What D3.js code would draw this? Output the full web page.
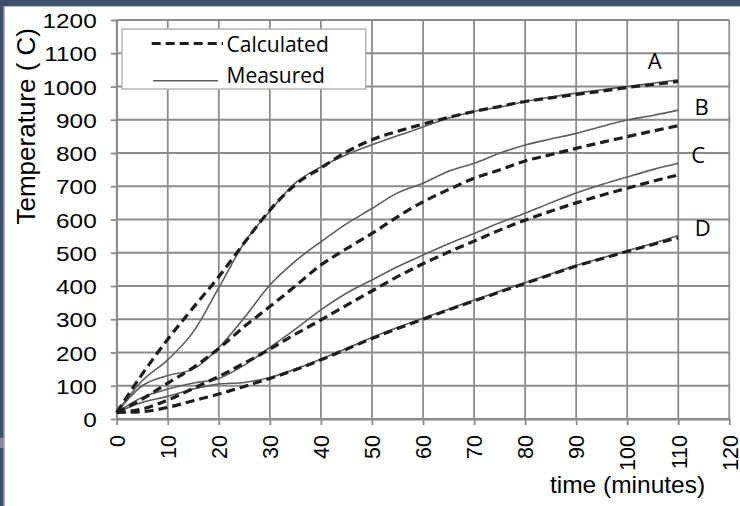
<!DOCTYPE html>
<html>
<head>
<meta charset="utf-8">
<script src="https://cdn.jsdelivr.net/npm/d3@7"></script>
<style>
  html, body { margin: 0; padding: 0; background: #ffffff; }
  svg { display: block; }
</style>
</head>
<body>
<svg id="chart" width="740" height="506"></svg>
<script>
// ---------------- data ----------------
const times = [0,5,10,15,20,25,30,35,40,45,50,55,60,65,70,75,80,85,90,95,100,105,110];

const calcA = [20,135,240,335,428,530,628,705,755,803,840,865,887,907,925,940,955,966,976,986,997,1006,1015];
const measA = [20,115,178,262,395,530,625,710,758,795,825,852,878,905,925,938,955,968,980,990,1000,1010,1020];

const calcB = [20,60,108,155,212,278,338,400,463,512,558,608,653,690,724,749,776,795,814,832,849,866,882];
const measB = [20,100,131,150,215,305,403,475,533,587,633,680,709,745,769,799,824,842,859,880,899,913,929];

const calcC = [20,30,57,92,128,168,210,255,298,342,385,428,467,502,535,568,598,625,650,673,694,715,734];
const measC = [20,65,90,108,122,162,215,270,328,378,418,458,493,527,558,590,619,650,680,705,728,750,769];

const calcD = [20,22,35,55,75,98,122,148,178,210,242,272,300,328,355,382,408,434,460,482,504,525,545];
const measD = [20,50,68,90,105,110,125,150,180,212,245,275,303,330,358,384,410,436,462,484,506,528,552];

const calculatedSeries = [calcA, calcB, calcC, calcD];
const measuredSeries = [measA, measB, measC, measD];

const xTicks = [0,10,20,30,40,50,60,70,80,90,100,110,120];
const yTicks = [0,100,200,300,400,500,600,700,800,900,1000,1100,1200];

const curveLabels = ["A","B","C","D"];
const labelT = [105.4,114.6,113.9,114.8];
const labelV = [1053,913,769,550];

const legendNames = ["Calculated","Measured"];
const xTitle = "time (minutes)";
const yTitle = "Temperature ( C)";

// ---------------- drawing ----------------
const svg = d3.select("#chart");

// slide background frame
svg.append("rect").attr("x",0).attr("y",0).attr("width",740).attr("height",506).attr("fill","#3c5169");
svg.append("rect").attr("x",0).attr("y",438).attr("width",4).attr("height",10).attr("fill","#86839a");
svg.append("rect").attr("x",3.5).attr("y",6).attr("width",740).attr("height",506).attr("fill","#b8b8b8");
svg.append("rect").attr("x",5).attr("y",7).attr("width",740).attr("height",506).attr("fill","#ffffff");

const x = d3.scaleLinear().domain([0,120]).range([116.7,729.3]);
const y = d3.scaleLinear().domain([0,1200]).range([419,20]);

const gridColor = "#8c8c8c";
const fmt = d3.format("d");

// grid
const grid = svg.append("g");
grid.selectAll("line.v").data(xTicks).join("line")
  .attr("x1", d => x(d)).attr("x2", d => x(d))
  .attr("y1", y(0)).attr("y2", y(1200))
  .attr("stroke", gridColor).attr("stroke-width", 1.8);
grid.selectAll("line.h").data(yTicks).join("line")
  .attr("x1", x(0)).attr("x2", x(120))
  .attr("y1", d => y(d)).attr("y2", d => y(d))
  .attr("stroke", gridColor).attr("stroke-width", 1.8);

// axes
const yAxis = svg.append("g").attr("transform", `translate(${x(0)},0)`)
  .call(d3.axisLeft(y).tickValues(yTicks).tickFormat(fmt).tickSize(6).tickSizeOuter(0));
yAxis.select(".domain").attr("stroke", gridColor).attr("stroke-width", 1.8);
yAxis.selectAll(".tick line").attr("stroke", gridColor).attr("stroke-width", 1.8);
yAxis.selectAll(".tick text")
  .attr("x", null).attr("dy", null)
  .attr("transform", "translate(-20,7.5) scale(1.16,1)")
  .attr("text-anchor", "end")
  .attr("font-family", "'Liberation Sans', Arial, sans-serif")
  .attr("font-size", 21).attr("fill", "#000");

const xAxis = svg.append("g").attr("transform", `translate(0,${y(0)})`)
  .call(d3.axisBottom(x).tickValues(xTicks).tickFormat(fmt).tickSize(6).tickSizeOuter(0));
xAxis.select(".domain").attr("stroke", gridColor).attr("stroke-width", 1.8);
xAxis.selectAll(".tick line").attr("stroke", gridColor).attr("stroke-width", 1.8);
xAxis.selectAll(".tick text")
  .attr("y", null).attr("dy", "0.36em")
  .attr("transform", "translate(0,16) rotate(-90)")
  .attr("text-anchor", "end")
  .attr("font-family", "'Liberation Sans', Arial, sans-serif")
  .attr("font-size", 21.5).attr("fill", "#000");

// lines
const line = d3.line()
  .x((d, i) => x(times[i]))
  .y(d => y(d))
  .curve(d3.curveMonotoneX);

svg.append("g").selectAll("path").data(measuredSeries).join("path")
  .attr("d", line)
  .attr("fill", "none")
  .attr("stroke", "#5e5e5e")
  .attr("stroke-width", 1.6);

svg.append("g").selectAll("path").data(calculatedSeries).join("path")
  .attr("d", line)
  .attr("fill", "none")
  .attr("stroke", "#1e1e1e")
  .attr("stroke-width", 3.2)
  .attr("stroke-dasharray", "9,5");

// curve labels
svg.append("g").selectAll("text").data(curveLabels).join("text")
  .attr("x", (d, i) => x(labelT[i]))
  .attr("y", (d, i) => y(labelV[i]))
  .attr("text-anchor", "middle")
  .attr("font-family", "'Open Sans', sans-serif")
  .attr("font-size", 22)
  .attr("fill", "#000")
  .text(d => d);

// legend
const lg = svg.append("g");
lg.append("rect").attr("x", 122).attr("y", 29).attr("width", 243.7).attr("height", 60)
  .attr("fill", "#ffffff").attr("stroke", "#b4b4b4").attr("stroke-width", 1.5);
lg.append("line").attr("x1", 151.7).attr("x2", 223).attr("y1", 43.5).attr("y2", 43.5)
  .attr("stroke", "#1e1e1e").attr("stroke-width", 3.2).attr("stroke-dasharray", "9,5");
lg.append("line").attr("x1", 153).attr("x2", 218).attr("y1", 80.7).attr("y2", 80.7)
  .attr("stroke", "#5e5e5e").attr("stroke-width", 1.6);
lg.selectAll("text").data(legendNames).join("text")
  .attr("x", 226.5)
  .attr("y", (d, i) => i === 0 ? 51.5 : 83.3)
  .attr("font-family", "'Open Sans', sans-serif")
  .attr("font-size", 21)
  .attr("fill", "#000")
  .text(d => d);

// axis titles
svg.append("text")
  .attr("transform", "translate(627.5,493)")
  .attr("text-anchor", "middle")
  .attr("font-family", "'Liberation Sans', Arial, sans-serif")
  .attr("font-size", 24.5)
  .attr("fill", "#000")
  .text(xTitle);

svg.append("text")
  .attr("transform", "translate(26,28) rotate(-90)")
  .attr("text-anchor", "end")
  .attr("dy", "0.36em")
  .attr("font-family", "'Liberation Sans', Arial, sans-serif")
  .attr("font-size", 26)
  .attr("fill", "#000")
  .text(yTitle);
</script>
</body>
</html>
